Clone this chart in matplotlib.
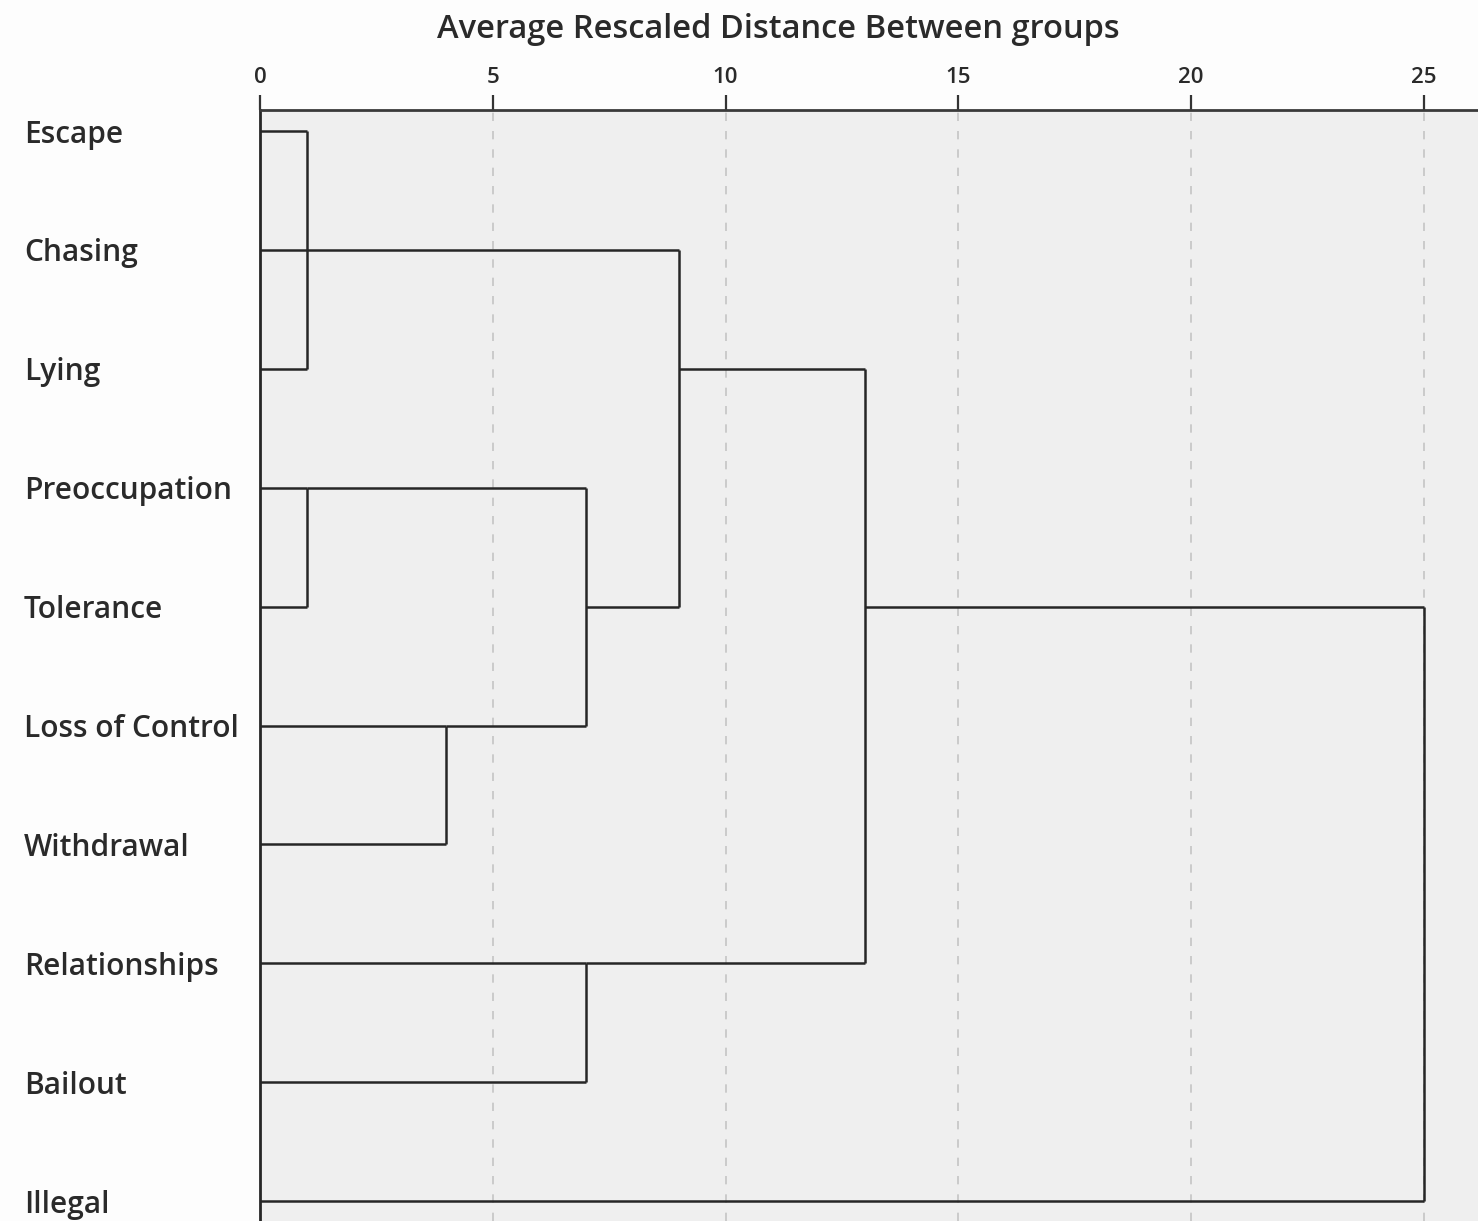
import numpy as np
import matplotlib.pyplot as plt

plt.rcParams['font.family'] = ['Open Sans', 'DejaVu Sans']
plt.rcParams['font.weight'] = 600

# leaf labels, top to bottom
labels = ["Escape", "Chasing", "Lying", "Preoccupation", "Tolerance",
          "Loss of Control", "Withdrawal", "Relationships", "Bailout", "Illegal"]

# merges in order: member rows (representative rows of the joined clusters),
# rescaled distance, row where the new cluster's line continues
merge_rows = [[0, 1, 2], [3, 4], [5, 6], [7, 8], [3, 5], [1, 4], [2, 7], [4, 9]]
merge_dist = [1, 1, 4, 7, 7, 9, 13, 25]
merge_out = [1, 3, 5, 7, 4, 2, 4, 4]

xticks = [0, 5, 10, 15, 20, 25]
title = "Average Rescaled Distance Between groups"

W, H = 1478, 1221
fig = plt.figure(figsize=(W / 100, H / 100), dpi=100, facecolor='#fdfdfd')
ax = fig.add_axes([260 / W, 0, 1 - 260 / W, 1 - 110 / H])
ax.set_facecolor('#efefef')

line_kw = dict(color='#262626', lw=1.8, solid_capstyle='butt')

# x position where each row's current line starts
start = {i: 0.0 for i in range(len(labels))}
for rows, d, out in zip(merge_rows, merge_dist, merge_out):
    for r in rows:
        ax.plot([start[r], d], [r, r], **line_kw)
    ax.plot([d, d], [min(rows), max(rows)], **line_kw)
    for r in rows:
        start.pop(r, None)
    start[out] = d

step = 118.9
ax.set_xlim(0, (W - 260) / 46.56)
ax.set_ylim((H - 131) / step, -(131 - 110) / step)

ax.xaxis.tick_top()
ax.set_xticks(xticks)
ax.set_xticklabels([str(t) for t in xticks])
ax.tick_params(axis='x', length=11, width=1.6, color='#333333', pad=5,
               labelsize=16, labelcolor='#2a2a2a')
for t in xticks[1:]:
    ax.axvline(t, color='#c4c4c4', lw=1.2, ls=(0, (5, 6)), zorder=0)

ax.set_yticks(range(len(labels)))
ax.set_yticklabels(labels)
ax.tick_params(axis='y', length=0, pad=170, labelsize=21.5, labelcolor='#2a2a2a')
for lab in ax.get_yticklabels():
    lab.set_horizontalalignment('left')

for s in ['right', 'bottom']:
    ax.spines[s].set_visible(False)
ax.spines['top'].set_linewidth(2.0)
ax.spines['top'].set_color('#3a3a3a')
ax.spines['left'].set_linewidth(2.0)
ax.spines['left'].set_color('#262626')

fig.text(778 / W, 1 - 30 / H, title, ha='center', va='center',
         fontsize=23.5, color='#2a2a2a')

fig.savefig('out.png', dpi=100, facecolor=fig.get_facecolor())
